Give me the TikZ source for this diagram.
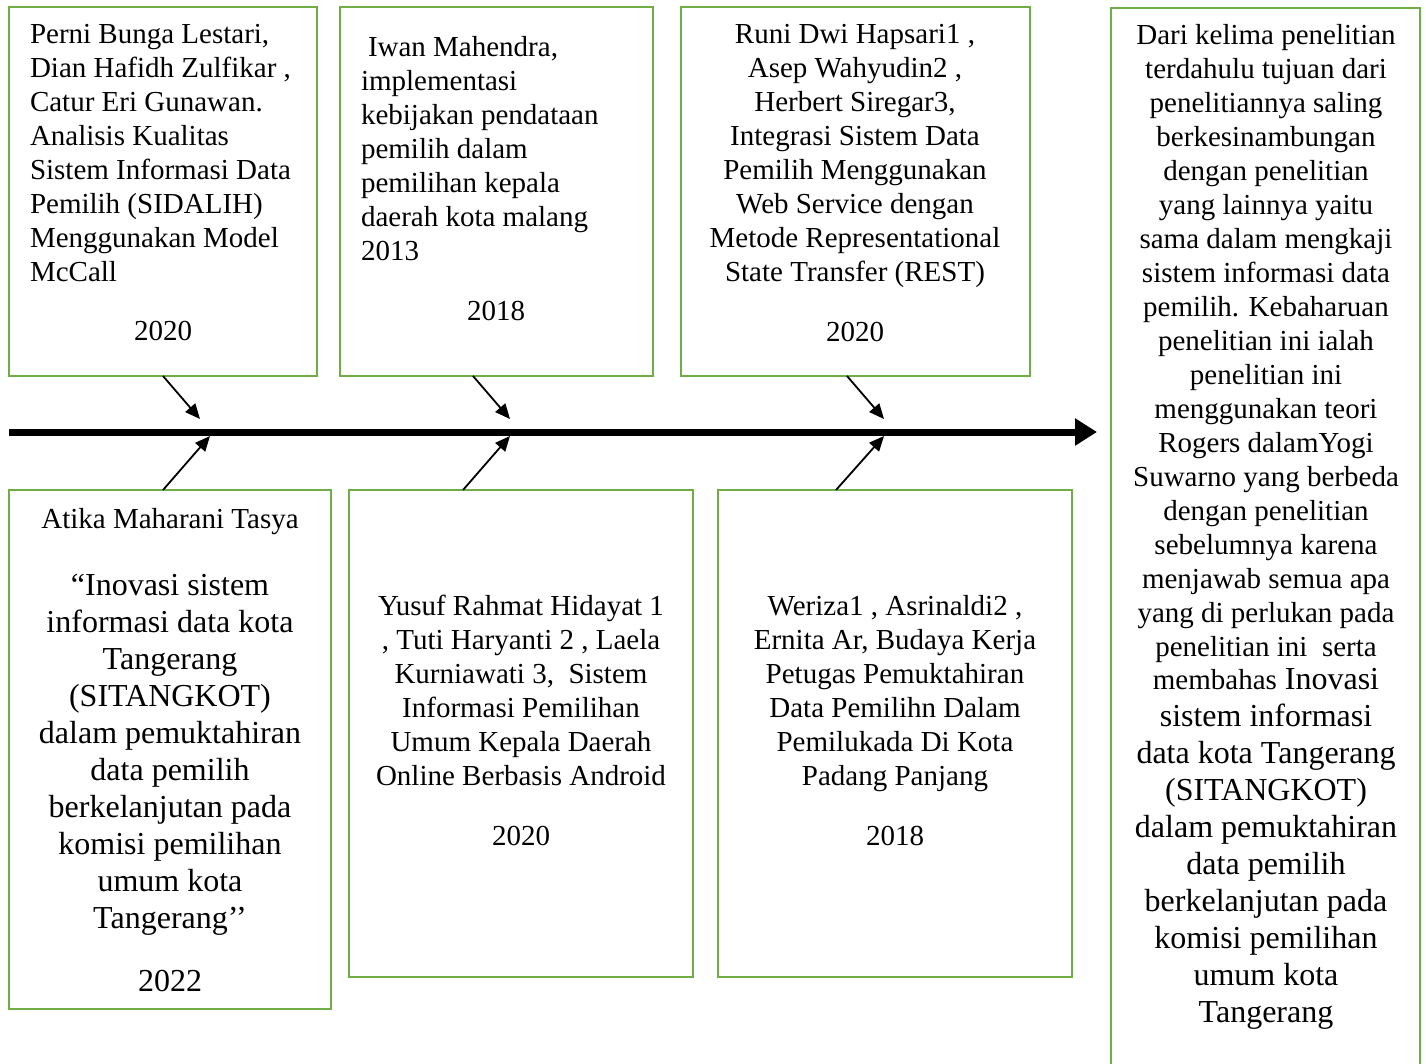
\documentclass[tikz,border=0pt]{standalone}
\usepackage{fontspec}
\setmainfont{Liberation Serif}
\usetikzlibrary{arrows.meta}
\definecolor{boxgreen}{RGB}{112,173,71}
\begin{document}
\begin{tikzpicture}[x=1pt,y=-1pt,
  box/.style={draw=boxgreen, line width=2.6pt, inner sep=0pt, outer sep=0pt, rectangle},
  sm/.style={font=\fontsize{29}{34}\selectfont, inner sep=0pt, outer sep=0pt},
  bg/.style={font=\fontsize{32}{37}\selectfont, inner sep=0pt, outer sep=0pt},
  conn/.style={line width=1.8pt, -{Triangle[length=15pt,width=13pt]}},
  mainline/.style={line width=7pt, -{Triangle[length=22pt,width=26pt]}}]
\useasboundingbox (0,0) rectangle (1426,1063);
\clip (0,0) rectangle (1426,1063);

% boxes
\node[box, minimum width=308pt, minimum height=369pt] (b1) at (163,191.5) {};
\node[box, minimum width=313pt, minimum height=369pt] (b2) at (496.5,191.5) {};
\node[box, minimum width=349pt, minimum height=369pt] (b3) at (855.5,191.5) {};
\node[box, minimum width=322pt, minimum height=519pt] (b4) at (170,749.5) {};
\node[box, minimum width=344pt, minimum height=487pt] (b5) at (521,733.5) {};
\node[box, minimum width=354pt, minimum height=487pt] (b6) at (895,733.5) {};
\node[box, minimum width=309pt, minimum height=1082pt] (b7) at (1265.5,549) {};

% texts
\node[sm, anchor=north west, align=left] (t1) at (30,24) {Perni Bunga Lestari,\\Dian Hafidh Zulfikar ,\\Catur Eri Gunawan.\\Analisis Kualitas\\Sistem Informasi Data\\Pemilih (SIDALIH)\\Menggunakan Model\\McCall};
\node[sm, anchor=base] (y1) at (163,340) {2020};

\node[sm, anchor=north west, align=left] (t2) at (361,36) {\hspace*{7pt}Iwan Mahendra,\\implementasi\\kebijakan pendataan\\pemilih dalam\\pemilihan kepala\\daerah kota malang\\2013};
\node[sm, anchor=base] (y2) at (496,320) {2018};

\node[sm, anchor=north, align=center] (t3) at (855,24) {Runi Dwi Hapsari1 ,\\Asep Wahyudin2 ,\\Herbert Siregar3,\\Integrasi Sistem Data\\Pemilih Menggunakan\\Web Service dengan\\Metode Representational\\State Transfer (REST)};
\node[sm, anchor=base] (y3) at (855,341) {2020};

\node[sm, anchor=base] (t4a) at (170,528) {Atika Maharani Tasya};
\node[bg, anchor=north, align=center] (t4b) at (170,574) {“Inovasi sistem\\informasi data kota\\Tangerang\\(SITANGKOT)\\dalam pemuktahiran\\data pemilih\\berkelanjutan pada\\komisi pemilihan\\umum kota\\Tangerang’’};
\node[bg, anchor=base] (y4) at (170,991) {2022};

\node[sm, anchor=north, align=center] (t5) at (521,595) {Yusuf Rahmat Hidayat 1\\, Tuti Haryanti 2 , Laela\\Kurniawati 3,\ \ Sistem\\Informasi Pemilihan\\Umum Kepala Daerah\\Online Berbasis Android};
\node[sm, anchor=base] (y5) at (521,845) {2020};

\node[sm, anchor=north, align=center] (t6) at (895,595) {Weriza1 , Asrinaldi2 ,\\Ernita Ar, Budaya Kerja\\Petugas Pemuktahiran\\Data Pemilihn Dalam\\Pemilukada Di Kota\\Padang Panjang};
\node[sm, anchor=base] (y6) at (895,845) {2018};

\node[sm, anchor=north, align=center] (t7a) at (1266,24) {Dari kelima penelitian\\terdahulu tujuan dari\\penelitiannya saling\\berkesinambungan\\dengan penelitian\\yang lainnya yaitu\\sama dalam mengkaji\\sistem informasi data\\pemilih. Kebaharuan\\penelitian ini ialah\\penelitian ini\\menggunakan teori\\Rogers dalamYogi\\Suwarno yang berbeda\\dengan penelitian\\sebelumnya karena\\menjawab semua apa\\yang di perlukan pada\\penelitian ini\ \ serta};
\node[bg, anchor=north, align=center] (t7b) at (1266,668) {{\fontsize{29}{34}\selectfont membahas} Inovasi\\sistem informasi\\data kota Tangerang\\(SITANGKOT)\\dalam pemuktahiran\\data pemilih\\berkelanjutan pada\\komisi pemilihan\\umum kota\\Tangerang};

% timeline
\coordinate (tl0) at (9,432);
\coordinate (tl1) at (1097,432);
\draw[mainline] (tl0) -- (tl1);

\coordinate (d1) at (200,419);
\coordinate (d2) at (510,419);
\coordinate (d3) at (884,419);
\coordinate (u1) at (210,436);
\coordinate (u2) at (510,436);
\coordinate (u3) at (884,436);

\draw[conn] (b1.south) -- (d1);
\draw[conn] ([xshift=-23.5pt]b2.south) -- (d2);
\draw[conn] ([xshift=-8.5pt]b3.south) -- (d3);
\draw[conn] ([xshift=-7pt]b4.north) -- (u1);
\draw[conn] ([xshift=-58pt]b5.north) -- (u2);
\draw[conn] ([xshift=-59pt]b6.north) -- (u3);
\end{tikzpicture}
\end{document}
